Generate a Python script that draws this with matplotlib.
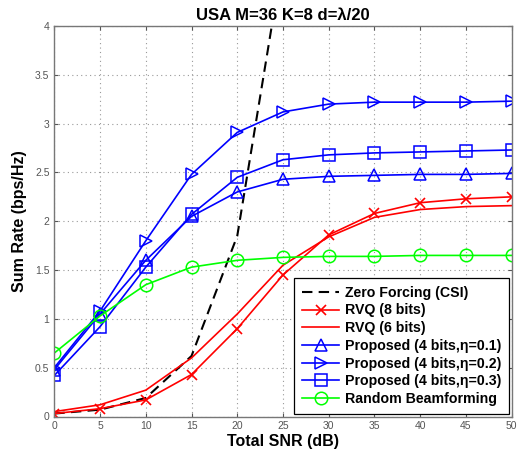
import matplotlib
matplotlib.use("Agg")
import matplotlib.pyplot as plt

snr = [0, 5, 10, 15, 20, 25, 30, 35, 40, 45, 50]
zf_snr = [0, 5, 10, 15, 20, 25]
zf = [0.03, 0.07, 0.19, 0.62, 1.85, 4.7]
rvq8 = [0.03, 0.08, 0.17, 0.43, 0.90, 1.45, 1.86, 2.08, 2.19, 2.23, 2.25]
rvq6 = [0.05, 0.12, 0.27, 0.60, 1.05, 1.55, 1.84, 2.04, 2.12, 2.15, 2.16]
prop01 = [0.48, 1.05, 1.60, 2.05, 2.30, 2.43, 2.46, 2.47, 2.48, 2.48, 2.49]
prop02 = [0.50, 1.08, 1.80, 2.48, 2.91, 3.12, 3.20, 3.22, 3.22, 3.22, 3.23]
prop03 = [0.42, 0.92, 1.53, 2.07, 2.45, 2.63, 2.68, 2.70, 2.71, 2.72, 2.73]
rbf = [0.65, 1.03, 1.35, 1.53, 1.60, 1.63, 1.64, 1.64, 1.65, 1.65, 1.65]

labels = ["Zero Forcing (CSI)", "RVQ (8 bits)", "RVQ (6 bits)",
          "Proposed (4 bits,η=0.1)", "Proposed (4 bits,η=0.2)",
          "Proposed (4 bits,η=0.3)", "Random Beamforming"]
title = "USA M=36 K=8 d=λ/20"
xticks = [0, 5, 10, 15, 20, 25, 30, 35, 40, 45, 50]
yticks = [0, 0.5, 1, 1.5, 2, 2.5, 3, 3.5, 4]

plt.rcParams['font.family'] = ['Liberation Sans', 'DejaVu Sans']

fig = plt.figure(figsize=(5.26, 4.5), dpi=100)
ax = fig.add_axes([54.3/526, 1-416.5/450, (511.7-54.3)/526, (416.5-26)/450])

blue = '#0000ff'
red = '#ff0000'
green = '#00ff00'
lw = 1.2
ms = 9
ax.plot(zf_snr, zf, '--', color='black', lw=1.5, dashes=(5, 3), label=labels[0])
ax.plot(snr, rvq8, '-', color=red, lw=lw, marker='x', ms=7, mew=1.2, label=labels[1])
ax.plot(snr, rvq6, '-', color=red, lw=lw, label=labels[2])
ax.plot(snr, prop01, '-', color=blue, lw=lw, marker='^', ms=ms, mfc='none', mew=1.1, label=labels[3])
ax.plot(snr, prop02, '-', color=blue, lw=lw, marker='>', ms=ms, mfc='none', mew=1.1, label=labels[4])
ax.plot(snr, prop03, '-', color=blue, lw=lw, marker='s', ms=ms, mfc='none', mew=1.1, label=labels[5])
ax.plot(snr, rbf, '-', color=green, lw=lw, marker='o', ms=ms, mfc='none', mew=1.1, label=labels[6])

ax.set_xlim(0, 50)
ax.set_ylim(0, 4)
ax.set_xticks(xticks)
ax.set_yticks(yticks)
ax.set_xticklabels([str(v) for v in xticks])
ax.set_yticklabels([('%g' % v) for v in yticks])
ax.grid(True, linestyle=(0, (1, 3)), color='#999999', lw=0.8)
ax.tick_params(direction='in', top=True, right=True, labelsize=7.5, colors='#555555',
               labelcolor='#555555', length=3)
for s in ax.spines.values():
    s.set_color('#777777')
    s.set_linewidth(1.0)

ax.set_title(title, fontsize=12, fontweight='bold', pad=4)
ax.set_xlabel("Total SNR (dB)", fontsize=11.5, fontweight='bold', labelpad=2)
ax.set_ylabel("Sum Rate (bps/Hz)", fontsize=11.5, fontweight='bold', labelpad=6)

leg = ax.legend(loc='lower right', prop={'weight': 'bold', 'size': 10.2},
                handlelength=2.6, fancybox=False, edgecolor='black', framealpha=1,
                borderaxespad=0.2, labelspacing=0.26, handletextpad=0.4, borderpad=0.55)
leg.get_frame().set_linewidth(0.9)

fig.savefig("out.png", dpi=100)
